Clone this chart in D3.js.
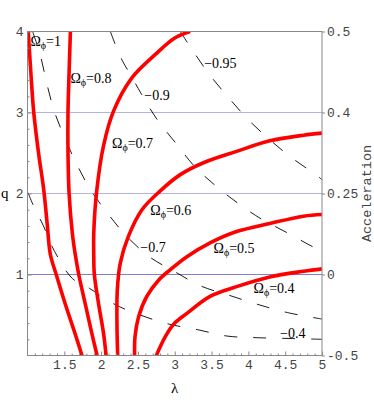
<!DOCTYPE html>
<html>
<head>
<meta charset="utf-8">
<script src="https://cdnjs.cloudflare.com/ajax/libs/d3/7.8.5/d3.min.js"></script>
<style>
  body { margin: 0; background: #fff; }
  .tick text { font-family: "Liberation Mono", "DejaVu Sans Mono", monospace; font-size: 13px; fill: #444; }
  .lbl { font-family: "Liberation Serif", "DejaVu Serif", serif; font-size: 14px; fill: #000; }
</style>
</head>
<body>
<div id="chart"></div>
<script>
// contour lines, [lambda, q]
var omega1  = [[1.01,4.0],[1.045,3.5],[1.085,3.0],[1.15,2.5],[1.22,2.05],[1.267,1.63],[1.31,1.25],[1.39,1.0],[1.515,0.63],[1.65,0.26],[1.74,0]];
var omega08 = [[1.583,4.0],[1.565,3.5],[1.55,3.0],[1.55,2.5],[1.565,2.0],[1.61,1.5],[1.65,1.24],[1.696,1.0],[1.786,0.63],[1.877,0.26],[1.945,0]];
var omega07 = [[3.21,4.0],[3.0,3.92],[2.74,3.72],[2.42,3.43],[2.17,3.02],[2.035,2.6],[1.94,2.03],[1.90,1.51],[1.90,1.24],[1.908,1.0],[1.967,0.63],[2.035,0.26],[2.067,0]];
var omega06 = [[5.0,2.745],[4.75,2.72],[4.29,2.65],[3.84,2.52],[3.39,2.38],[3.07,2.23],[2.80,2.03],[2.555,1.80],[2.37,1.47],[2.26,1.14],[2.22,0.81],[2.215,0.4],[2.225,0]];
var omega05 = [[5.0,1.74],[4.75,1.72],[4.29,1.63],[3.84,1.53],[3.48,1.39],[3.165,1.22],[2.94,1.06],[2.78,0.93],[2.62,0.73],[2.51,0.48],[2.46,0.23],[2.455,0]];
var omega04 = [[5.0,1.07],[4.75,1.04],[4.29,0.97],[3.84,0.85],[3.48,0.73],[3.165,0.52],[3.0,0.40],[2.87,0.23],[2.75,0]];

var acc095 = [[3.075,4.0],[3.24,3.77],[3.47,3.47],[3.725,3.19],[4.0,2.91],[4.295,2.66],[4.59,2.44],[4.92,2.23],[5.0,2.17]];
var acc09  = [[2.125,4.0],[2.193,3.84],[2.288,3.64],[2.397,3.47],[2.546,3.23],[2.763,2.91],[3.007,2.63],[3.264,2.34],[3.549,2.10],[3.888,1.86],[4.186,1.68],[4.539,1.51],[4.905,1.33],[5.0,1.30]];
var acc07  = [[1.07,4.0],[1.176,3.7],[1.267,3.34],[1.366,3.01],[1.50,2.70],[1.664,2.37],[1.854,2.05],[2.10,1.74],[2.37,1.45],[2.67,1.21],[3.01,1.03],[3.35,0.86],[3.75,0.74],[4.13,0.63],[4.53,0.53],[5.0,0.45]];
var acc04  = [[1.007,2.01],[1.095,1.82],[1.217,1.60],[1.31,1.39],[1.447,1.16],[1.61,0.95],[1.84,0.83],[2.166,0.64],[2.53,0.50],[2.91,0.39],[3.305,0.32],[3.71,0.24],[4.105,0.22],[4.566,0.21],[5.0,0.2]];

var omegaNames = ["1", "0.8", "0.7", "0.6", "0.5", "0.4"];
var omegaLabelAt = [[1.04,3.82],[1.583,3.37],[2.148,2.56],[2.668,1.74],[3.526,1.27],[4.07,0.77]];
var accNames = ["-0.95", "-0.9", "-0.7", "-0.4"];
var accLabelAt = [[3.40,3.55],[2.586,3.16],[2.532,1.28],[4.43,0.22]];

var xTicks = [1.5, 2, 2.5, 3, 3.5, 4, 4.5, 5];
var xTickLabels = ["1.5", "2", "2.5", "3", "3.5", "4", "4.5", "5"];
var qTicks = [1, 2, 3, 4];
var qTickLabels = ["1", "2", "3", "4"];
var accTicks = [0, 1, 2, 3, 4];
var accTickLabels = ["-0.5", "0", "0.25", "0.4", "0.5"];
var gridQ = [1, 2, 3];

var W = 374, H = 412;
var margin = {top: 31.5, right: 52, bottom: 56.5, left: 27.5};
var width = W - margin.left - margin.right,
    height = H - margin.top - margin.bottom;

var svg = d3.select("#chart").append("svg").attr("width", W).attr("height", H);
var g = svg.append("g").attr("transform", "translate(" + margin.left + "," + margin.top + ")");

var x = d3.scaleLinear().domain([1, 5]).range([0, width]);
var y = d3.scaleLinear().domain([0, 4]).range([height, 0]);

g.append("defs").append("clipPath").attr("id", "clip")
  .append("rect").attr("width", width).attr("height", height);

// grid lines
g.selectAll(".grid").data(gridQ).enter().append("line")
  .attr("x1", 0).attr("x2", width)
  .attr("y1", function(d) { return y(d); }).attr("y2", function(d) { return y(d); })
  .style("stroke", function(d) { return d == 1 ? "#8080c8" : "#b4b4e2"; })
  .style("stroke-width", 1.2);

// minor ticks (inward)
var xMinor = d3.range(11, 50).map(function(d) { return d / 10; }).filter(function(d) { return xTicks.indexOf(d) < 0; });
var qMinor = d3.range(1, 20).map(function(d) { return d / 5; }).filter(function(d) { return qTicks.indexOf(d) < 0; });

var line = d3.line()
  .x(function(d) { return x(d[0]); })
  .y(function(d) { return y(d[1]); })
  .curve(d3.curveCatmullRom.alpha(0.5));

var plot = g.append("g").attr("clip-path", "url(#clip)");

[acc095, acc09, acc07, acc04].forEach(function(s) {
  plot.append("path").datum(s)
    .attr("d", line)
    .style("fill", "none").style("stroke", "#000").style("stroke-width", 0.9)
    .style("stroke-dasharray", "13,16");
});

[omega1, omega08, omega07, omega06, omega05, omega04].forEach(function(s) {
  plot.append("path").datum(s)
    .attr("d", line)
    .style("fill", "none").style("stroke", "#ff0000").style("stroke-width", 3.6);
});

// frame
g.append("rect").attr("width", width).attr("height", height)
  .style("fill", "none").style("stroke", "#888").style("stroke-width", 1);

var xAxis = d3.axisBottom(x).tickValues(xTicks).tickSize(-4).tickPadding(4)
  .tickFormat(function(d, i) { return xTickLabels[i]; });
g.append("g").attr("transform", "translate(0," + height + ")").call(xAxis)
  .call(function(a) { a.select(".domain").remove(); a.selectAll("line").style("stroke", "#888"); });

g.append("g").attr("transform", "translate(0," + height + ")")
  .call(d3.axisBottom(x).tickValues(xMinor).tickSize(-2).tickFormat(""))
  .call(function(a) { a.select(".domain").remove(); a.selectAll("line").style("stroke", "#888"); });

var yAxis = d3.axisLeft(y).tickValues(qTicks).tickSize(-4).tickPadding(4)
  .tickFormat(function(d, i) { return qTickLabels[i]; });
g.append("g").call(yAxis)
  .call(function(a) { a.select(".domain").remove(); a.selectAll("line").style("stroke", "#888"); });

g.append("g")
  .call(d3.axisLeft(y).tickValues(qMinor).tickSize(-2).tickFormat(""))
  .call(function(a) { a.select(".domain").remove(); a.selectAll("line").style("stroke", "#888"); });

var accAxis = d3.axisRight(y).tickValues(accTicks).tickSize(3).tickPadding(2)
  .tickFormat(function(d, i) { return accTickLabels[i]; });
g.append("g").attr("transform", "translate(" + width + ",0)").call(accAxis)
  .call(function(a) { a.select(".domain").remove(); a.selectAll("line").style("stroke", "#888"); });

// axis titles
svg.append("text").attr("class", "lbl")
  .attr("x", margin.left + width / 2).attr("y", 393)
  .attr("text-anchor", "middle").style("font-size", "15px").text("λ");
svg.append("text").attr("class", "lbl")
  .attr("x", 1).attr("y", margin.top + y(2) + 4)
  .style("font-size", "15px").text("q");
svg.append("text")
  .attr("transform", "translate(371," + (margin.top + y(2)) + ") rotate(-90)")
  .attr("text-anchor", "middle")
  .style("font-family", "'Liberation Mono', monospace").style("font-size", "13.5px").style("fill", "#444")
  .text("Acceleration");

// contour labels
omegaNames.forEach(function(n, i) {
  var t = g.append("text").attr("class", "lbl")
    .attr("x", x(omegaLabelAt[i][0])).attr("y", y(omegaLabelAt[i][1]));
  t.append("tspan").text("Ω");
  t.append("tspan").attr("dy", 3).style("font-size", "10px").text("ϕ");
  t.append("tspan").attr("dy", -3).text("=" + n);
});

accNames.forEach(function(n, i) {
  g.append("text").attr("class", "lbl")
    .attr("x", x(accLabelAt[i][0])).attr("y", y(accLabelAt[i][1]))
    .text(n.replace("-", "−"));
});
</script>
</body>
</html>
